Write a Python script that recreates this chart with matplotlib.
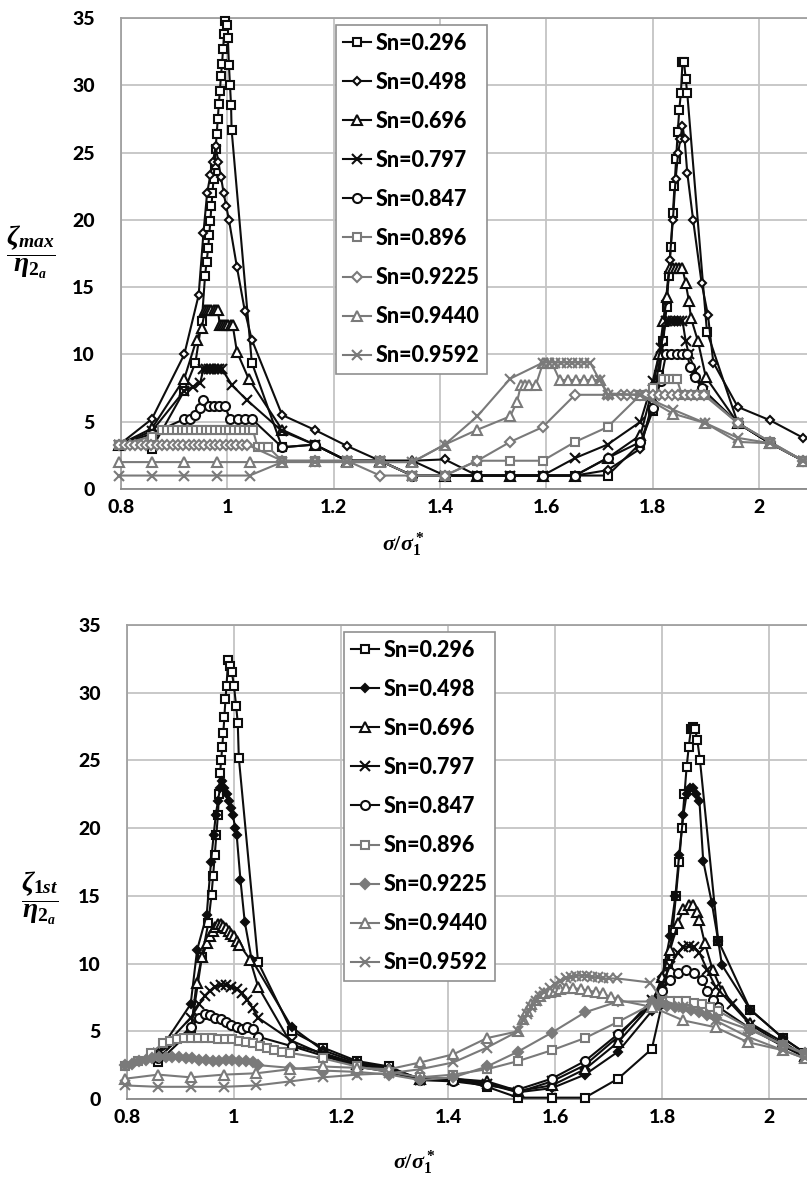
import matplotlib
matplotlib.use("Agg")
import matplotlib.pyplot as plt

# ---------------- data: upper panel (zeta_max / eta) ----------------
labels = ["Sn=0.296", "Sn=0.498", "Sn=0.696", "Sn=0.797", "Sn=0.847",
          "Sn=0.896", "Sn=0.9225", "Sn=0.9440", "Sn=0.9592"]

t_x296 = [0.797, 0.858, 0.919, 0.940, 0.952, 0.958, 0.961, 0.964, 0.966, 0.968, 0.970, 0.972, 0.974,
          0.976, 0.978, 0.980, 0.982, 0.984, 0.986, 0.988, 0.990, 0.992, 0.994, 0.996, 0.999, 1.001,
          1.003, 1.005, 1.007, 1.008, 1.046, 1.103, 1.164, 1.225, 1.287, 1.348, 1.409, 1.470, 1.532,
          1.593, 1.654, 1.715, 1.777, 1.800, 1.812, 1.820, 1.826, 1.830, 1.834, 1.838, 1.841, 1.844,
          1.847, 1.850, 1.853, 1.856, 1.859, 1.862, 1.865, 1.902, 1.960, 2.021, 2.083]
t_y296 = [3.3, 3.0, 7.3, 9.4, 12.5, 15.8, 16.9, 17.9, 18.9, 19.9, 21.0, 22.0, 23.0,
          24.1, 25.3, 26.4, 27.5, 28.6, 29.6, 30.7, 31.6, 32.7, 33.8, 34.8, 34.5, 33.5,
          31.5, 30.0, 28.5, 26.7, 9.4, 3.1, 3.3, 2.1, 2.1, 1.0, 1.0, 1.0, 1.0,
          1.0, 1.0, 1.0, 3.4, 5.8, 8.5, 11.0, 13.5, 15.8, 18.0, 20.5, 22.5, 24.5,
          26.5, 28.2, 29.4, 31.7, 31.7, 30.5, 29.4, 11.7, 4.9, 3.4, 2.1]

t_x498 = [0.797, 0.858, 0.919, 0.946, 0.955, 0.962, 0.968, 0.973, 0.978, 0.983, 0.988, 0.993,
          0.998, 1.003, 1.018, 1.033, 1.046, 1.103, 1.164, 1.225, 1.287, 1.348, 1.409, 1.470,
          1.532, 1.593, 1.654, 1.715, 1.777, 1.800, 1.815, 1.825, 1.832, 1.838, 1.843, 1.848,
          1.852, 1.856, 1.860, 1.865, 1.876, 1.892, 1.904, 1.914, 1.960, 2.021, 2.083]
t_y498 = [3.3, 5.2, 10.0, 14.4, 19.0, 22.0, 23.3, 24.3, 25.5, 24.3, 23.2, 22.0,
          21.0, 20.0, 16.5, 13.2, 11.1, 5.5, 4.4, 3.2, 2.1, 2.1, 2.2, 1.0,
          1.0, 1.0, 1.0, 1.4, 3.0, 6.5, 10.0, 14.0, 17.0, 20.0, 23.0, 25.0,
          26.0, 27.0, 26.0, 23.5, 20.0, 15.3, 12.9, 9.4, 6.1, 5.1, 3.8]

t_x696 = [0.797, 0.858, 0.919, 0.942, 0.952, 0.958, 0.962, 0.966, 0.970, 0.974, 0.978, 0.982,
          0.986, 0.990, 0.994, 0.998, 1.002, 1.006, 1.010, 1.018, 1.040, 1.103, 1.164, 1.225,
          1.287, 1.348, 1.409, 1.470, 1.532, 1.593, 1.654, 1.715, 1.777, 1.800, 1.812, 1.820,
          1.826, 1.832, 1.838, 1.844, 1.850, 1.856, 1.862, 1.868, 1.872, 1.885, 1.900, 1.960,
          2.021, 2.083]
t_y696 = [3.3, 4.5, 8.2, 11.1, 12.0, 13.3, 13.3, 13.3, 13.3, 13.3, 13.3, 13.3,
          12.2, 12.2, 12.2, 12.2, 12.2, 12.2, 12.2, 10.2, 8.2, 4.4, 3.3, 2.1,
          2.1, 2.1, 1.0, 1.0, 1.0, 1.0, 1.0, 2.3, 4.0, 7.5, 10.0, 12.5,
          14.3, 16.4, 16.4, 16.4, 16.4, 16.4, 15.3, 14.0, 12.7, 11.0, 8.3, 4.9,
          3.4, 2.1]

t_x797 = [0.797, 0.858, 0.919, 0.935, 0.949, 0.955, 0.960, 0.965, 0.970, 0.975, 0.980, 0.985,
          0.990, 1.009, 1.037, 1.103, 1.164, 1.225, 1.287, 1.348, 1.409, 1.470, 1.532, 1.593,
          1.654, 1.715, 1.777, 1.800, 1.815, 1.825, 1.832, 1.838, 1.844, 1.850, 1.856, 1.862,
          1.868, 1.880, 1.895, 1.960, 2.021, 2.083]
t_y797 = [3.3, 4.3, 7.3, 7.6, 7.9, 8.9, 8.9, 8.9, 8.9, 8.9, 8.9, 8.9,
          8.9, 7.7, 6.6, 4.3, 3.3, 2.1, 2.1, 1.0, 1.0, 1.0, 1.0, 1.0,
          2.3, 3.3, 5.0, 8.0, 10.5, 12.5, 12.5, 12.5, 12.5, 12.5, 12.5, 11.0,
          10.0, 8.8, 7.3, 4.9, 3.4, 2.1]

t_x847 = [0.797, 0.858, 0.919, 0.930, 0.940, 0.948, 0.955, 0.965, 0.975, 0.985, 0.995, 1.005,
          1.020, 1.033, 1.046, 1.103, 1.164, 1.225, 1.287, 1.348, 1.409, 1.470, 1.532, 1.593,
          1.654, 1.715, 1.777, 1.800, 1.815, 1.825, 1.835, 1.845, 1.855, 1.865, 1.870, 1.880,
          1.892, 1.960, 2.021, 2.083]
t_y847 = [3.3, 4.1, 5.2, 5.2, 5.5, 6.0, 6.6, 6.2, 6.2, 6.2, 6.2, 5.2,
          5.2, 5.2, 5.2, 3.1, 3.3, 2.1, 2.1, 1.0, 1.0, 1.0, 1.0, 1.0,
          1.0, 2.3, 3.5, 6.0, 8.0, 10.0, 10.0, 10.0, 10.0, 10.0, 9.1, 8.3,
          7.5, 4.9, 3.4, 2.1]

t_x896 = [0.797, 0.858, 0.877, 0.887, 0.896, 0.905, 0.914, 0.923, 0.932, 0.941, 0.950, 0.959,
          0.968, 0.977, 0.986, 0.995, 1.004, 1.013, 1.022, 1.031, 1.040, 1.048, 1.057, 1.067,
          1.077, 1.103, 1.164, 1.225, 1.287, 1.348, 1.409, 1.470, 1.532, 1.593, 1.654, 1.715,
          1.777, 1.800, 1.820, 1.830, 1.838, 1.845, 1.855, 1.870, 1.885, 1.899, 1.960, 2.021,
          2.083]
t_y896 = [3.3, 3.9, 4.4, 4.4, 4.4, 4.4, 4.4, 4.4, 4.4, 4.4, 4.4, 4.4,
          4.4, 4.4, 4.4, 4.4, 4.4, 4.4, 4.4, 4.4, 4.4, 4.4, 3.1, 3.1,
          3.1, 2.1, 2.1, 2.1, 2.1, 1.0, 1.0, 2.1, 2.1, 2.1, 3.5, 4.6,
          7.0, 7.5, 8.2, 8.2, 8.2, 8.2, 7.0, 7.0, 7.0, 7.0, 4.9, 3.5,
          2.1]

t_x9225 = [0.797, 0.807, 0.817, 0.827, 0.837, 0.847, 0.857, 0.867, 0.877, 0.887, 0.897, 0.907,
           0.917, 0.927, 0.937, 0.947, 0.957, 0.967, 0.977, 0.987, 0.997, 1.007, 1.017, 1.027,
           1.037, 1.103, 1.164, 1.225, 1.287, 1.348, 1.409, 1.470, 1.532, 1.593, 1.654, 1.715,
           1.740, 1.752, 1.764, 1.776, 1.788, 1.800, 1.812, 1.824, 1.836, 1.848, 1.860, 1.872,
           1.884, 1.896, 1.960, 2.021, 2.083]
t_y9225 = [3.3, 3.3, 3.3, 3.3, 3.3, 3.3, 3.3, 3.3, 3.3, 3.3, 3.3, 3.3,
           3.3, 3.3, 3.3, 3.3, 3.3, 3.3, 3.3, 3.3, 3.3, 3.3, 3.3, 3.3,
           3.3, 2.1, 2.1, 2.1, 1.0, 1.0, 1.0, 2.1, 3.5, 4.6, 7.0, 7.0,
           7.0, 7.0, 7.0, 7.0, 7.0, 7.0, 7.0, 7.0, 7.0, 7.0, 7.0, 7.0,
           7.0, 7.0, 4.9, 3.5, 2.1]

t_x944 = [0.797, 0.858, 0.919, 0.981, 1.042, 1.103, 1.164, 1.225, 1.287, 1.348, 1.409, 1.470,
          1.532, 1.545, 1.552, 1.560, 1.568, 1.580, 1.594, 1.602, 1.610, 1.625, 1.640, 1.655,
          1.670, 1.685, 1.700, 1.716, 1.777, 1.838, 1.899, 1.960, 2.021, 2.083]
t_y944 = [2.0, 2.0, 2.0, 2.0, 2.0, 2.0, 2.1, 2.0, 2.0, 2.0, 3.3, 4.4,
          5.4, 6.5, 7.7, 7.7, 7.7, 7.7, 9.4, 9.4, 9.4, 8.1, 8.1, 8.1,
          8.1, 8.1, 8.1, 7.1, 7.0, 5.6, 4.9, 3.5, 3.4, 2.1]

t_x9592 = [0.797, 0.858, 0.919, 0.981, 1.042, 1.103, 1.164, 1.225, 1.287, 1.348, 1.409, 1.470,
           1.532, 1.594, 1.605, 1.616, 1.627, 1.638, 1.649, 1.660, 1.671, 1.682, 1.700, 1.716,
           1.777, 1.838, 1.899, 1.960, 2.021, 2.083]
t_y9592 = [1.0, 1.0, 1.0, 1.0, 1.0, 2.0, 2.0, 2.0, 2.0, 2.0, 3.3, 5.4,
           8.2, 9.4, 9.4, 9.4, 9.4, 9.4, 9.4, 9.4, 9.4, 9.4, 8.1, 7.0,
           7.0, 5.9, 4.9, 3.8, 3.4, 2.1]

# ---------------- data: lower panel (zeta_1st / eta) ----------------
b_x296 = [0.858, 0.919, 0.940, 0.952, 0.958, 0.961, 0.964, 0.967, 0.970, 0.972, 0.974, 0.976,
          0.978, 0.980, 0.982, 0.984, 0.986, 0.989, 0.992, 0.996, 1.000, 1.004, 1.007, 1.009,
          1.045, 1.108, 1.166, 1.230, 1.290, 1.348, 1.410, 1.473, 1.531, 1.594, 1.656, 1.718,
          1.781, 1.800, 1.812, 1.820, 1.826, 1.832, 1.837, 1.842, 1.846, 1.850, 1.854, 1.858,
          1.862, 1.866, 1.871, 1.905, 1.965, 2.026, 2.067]
b_y296 = [2.7, 5.0, 10.5, 13.0, 15.1, 16.5, 18.0, 19.5, 21.0, 22.5, 24.1, 25.0,
          26.0, 27.0, 28.2, 29.5, 30.5, 32.4, 32.0, 31.5, 30.5, 29.0, 27.8, 25.2,
          10.1, 5.0, 3.8, 2.8, 2.4, 1.4, 1.5, 0.9, 0.1, 0.1, 0.1, 1.5,
          3.7, 7.0, 10.0, 12.5, 15.0, 17.5, 20.0, 22.5, 24.5, 26.0, 27.3, 27.5,
          27.3, 26.5, 25.0, 11.7, 6.6, 4.5, 3.4]

b_x498 = [0.858, 0.919, 0.931, 0.949, 0.957, 0.962, 0.966, 0.970, 0.974, 0.978, 0.982, 0.986,
          0.990, 0.994, 0.998, 1.002, 1.005, 1.012, 1.020, 1.033, 1.108, 1.166, 1.230, 1.290,
          1.348, 1.410, 1.473, 1.531, 1.594, 1.656, 1.718, 1.781, 1.800, 1.815, 1.825, 1.832,
          1.840, 1.846, 1.852, 1.858, 1.864, 1.870, 1.877, 1.893, 1.905, 1.912, 1.965, 2.026,
          2.067]
b_y498 = [3.4, 7.0, 11.0, 13.6, 17.5, 19.5, 21.0, 22.0, 23.0, 23.5, 23.0, 22.5,
          22.0, 21.5, 21.0, 20.0, 19.5, 16.2, 13.1, 10.3, 5.3, 3.6, 2.7, 2.3,
          1.5, 1.5, 1.2, 0.5, 0.8, 1.8, 3.5, 6.5, 9.0, 12.0, 15.0, 18.0,
          21.0, 22.5, 23.0, 23.0, 22.5, 22.0, 17.6, 14.5, 11.7, 9.9, 6.6, 4.5,
          3.4]

b_x696 = [0.858, 0.919, 0.930, 0.940, 0.950, 0.955, 0.960, 0.965, 0.970, 0.975, 0.980, 0.985,
          0.990, 0.995, 1.000, 1.005, 1.010, 1.030, 1.045, 1.108, 1.166, 1.230, 1.290, 1.348,
          1.410, 1.473, 1.531, 1.594, 1.656, 1.718, 1.781, 1.800, 1.815, 1.830, 1.840, 1.850,
          1.858, 1.865, 1.870, 1.880, 1.895, 1.912, 1.965, 2.026, 2.067]
b_y696 = [3.4, 4.9, 8.6, 10.5, 11.5, 12.0, 12.4, 12.7, 12.9, 12.9, 12.8, 12.6,
          12.4, 12.2, 12.0, 11.7, 11.4, 10.3, 8.3, 4.0, 3.4, 2.6, 2.2, 1.5,
          1.5, 1.3, 0.6, 1.0, 2.2, 4.2, 7.0, 9.0, 11.0, 13.0, 14.0, 14.3,
          14.3, 13.8, 13.2, 11.5, 9.5, 8.0, 5.6, 4.2, 3.2]

b_x797 = [0.858, 0.919, 0.935, 0.945, 0.955, 0.965, 0.975, 0.985, 0.995, 1.005, 1.015, 1.025,
          1.035, 1.045, 1.108, 1.166, 1.230, 1.290, 1.348, 1.410, 1.473, 1.531, 1.594, 1.656,
          1.718, 1.781, 1.800, 1.815, 1.830, 1.840, 1.850, 1.860, 1.870, 1.885, 1.900, 1.930,
          1.965, 2.026, 2.067]
b_y797 = [3.4, 6.0, 7.0, 7.6, 8.0, 8.3, 8.4, 8.4, 8.3, 8.1, 7.8, 7.3,
          6.7, 6.0, 4.3, 3.3, 2.5, 2.1, 1.4, 1.4, 1.1, 0.5, 1.3, 2.5,
          4.6, 7.3, 8.5, 9.8, 10.8, 11.2, 11.3, 11.2, 10.8, 9.5, 8.3, 7.0,
          5.5, 4.0, 3.2]

b_x847 = [0.858, 0.919, 0.935, 0.945, 0.955, 0.965, 0.975, 0.985, 0.995, 1.005, 1.015, 1.025,
          1.035, 1.045, 1.108, 1.166, 1.230, 1.290, 1.348, 1.410, 1.473, 1.531, 1.594, 1.656,
          1.718, 1.781, 1.800, 1.815, 1.830, 1.845, 1.860, 1.875, 1.885, 1.895, 1.905, 1.965,
          2.026, 2.067]
b_y847 = [3.0, 5.3, 6.0, 6.3, 6.2, 6.0, 5.9, 5.7, 5.5, 5.3, 5.2, 5.3,
          5.2, 4.6, 3.9, 3.2, 2.4, 2.0, 1.4, 1.3, 1.0, 0.7, 1.5, 2.8,
          4.8, 7.0, 8.0, 8.8, 9.3, 9.5, 9.3, 8.8, 8.0, 7.3, 6.8, 5.2,
          3.9, 3.1]

b_x896 = [0.797, 0.820, 0.845, 0.867, 0.880, 0.893, 0.906, 0.919, 0.932, 0.945, 0.958, 0.971,
          0.984, 0.997, 1.010, 1.023, 1.036, 1.049, 1.061, 1.075, 1.090, 1.105, 1.166, 1.230,
          1.290, 1.348, 1.410, 1.473, 1.531, 1.594, 1.656, 1.718, 1.781, 1.800, 1.815, 1.830,
          1.845, 1.860, 1.875, 1.890, 1.905, 1.965, 2.026, 2.067]
b_y896 = [2.4, 2.8, 3.4, 4.1, 4.3, 4.4, 4.5, 4.5, 4.5, 4.5, 4.5, 4.4,
          4.4, 4.4, 4.3, 4.2, 4.1, 3.9, 3.8, 3.6, 3.5, 3.4, 3.0, 2.4,
          2.0, 1.6, 1.8, 2.2, 2.8, 3.6, 4.5, 5.7, 7.0, 7.2, 7.2, 7.2,
          7.2, 7.1, 7.0, 6.8, 6.5, 5.2, 4.0, 3.3]

b_x9225 = [0.797, 0.810, 0.822, 0.835, 0.847, 0.860, 0.872, 0.885, 0.897, 0.910, 0.922, 0.935,
           0.947, 0.960, 0.972, 0.985, 0.997, 1.010, 1.022, 1.035, 1.045, 1.105, 1.166, 1.230,
           1.290, 1.348, 1.410, 1.473, 1.531, 1.594, 1.656, 1.718, 1.781, 1.795, 1.810, 1.825,
           1.840, 1.855, 1.870, 1.885, 1.900, 1.965, 2.026, 2.067]
b_y9225 = [2.5, 2.6, 2.8, 2.9, 3.0, 3.1, 3.1, 3.1, 3.1, 3.0, 3.0, 2.9,
           2.9, 2.8, 2.8, 2.9, 2.9, 2.8, 2.8, 2.7, 2.5, 2.3, 2.1, 2.0,
           1.8, 1.4, 1.6, 2.4, 3.5, 4.9, 6.4, 7.2, 7.2, 7.0, 6.9, 6.8,
           6.7, 6.6, 6.4, 6.2, 6.0, 5.1, 4.0, 3.4]

b_x944 = [0.797, 0.858, 0.919, 0.981, 1.042, 1.105, 1.166, 1.230, 1.290, 1.348, 1.410, 1.473,
          1.531, 1.540, 1.548, 1.556, 1.564, 1.572, 1.580, 1.590, 1.600, 1.610, 1.620, 1.634,
          1.648, 1.662, 1.676, 1.690, 1.704, 1.718, 1.781, 1.840, 1.900, 1.960, 2.026, 2.067]
b_y944 = [1.5, 1.8, 1.6, 1.8, 1.9, 2.2, 2.4, 2.3, 2.2, 2.7, 3.3, 4.5,
          5.0, 5.9, 6.5, 7.0, 7.3, 7.6, 7.8, 7.9, 8.0, 8.1, 8.2, 8.2,
          8.1, 8.0, 7.9, 7.8, 7.5, 7.3, 6.8, 5.8, 5.3, 4.2, 3.6, 3.0]

b_x9592 = [0.797, 0.858, 0.919, 0.981, 1.042, 1.105, 1.166, 1.230, 1.290, 1.348, 1.410, 1.473,
           1.531, 1.540, 1.548, 1.556, 1.564, 1.572, 1.580, 1.590, 1.600, 1.610, 1.620, 1.630,
           1.640, 1.650, 1.660, 1.670, 1.680, 1.690, 1.700, 1.716, 1.778, 1.800, 1.840, 1.900,
           1.960, 2.026, 2.067]
b_y9592 = [1.0, 0.9, 0.9, 0.9, 1.0, 1.3, 1.6, 1.8, 1.9, 2.2, 2.7, 3.8,
           5.0, 5.8, 6.3, 6.8, 7.2, 7.6, 7.9, 8.2, 8.5, 8.7, 8.9, 9.0,
           9.1, 9.1, 9.1, 9.0, 9.0, 8.9, 8.9, 8.9, 8.6, 7.3, 6.8, 5.8,
           4.6, 3.6, 3.0]

top_series = [(t_x296, t_y296), (t_x498, t_y498), (t_x696, t_y696), (t_x797, t_y797),
              (t_x847, t_y847), (t_x896, t_y896), (t_x9225, t_y9225), (t_x944, t_y944),
              (t_x9592, t_y9592)]
bot_series = [(b_x296, b_y296), (b_x498, b_y498), (b_x696, b_y696), (b_x797, b_y797),
              (b_x847, b_y847), (b_x896, b_y896), (b_x9225, b_y9225), (b_x944, b_y944),
              (b_x9592, b_y9592)]

xticks = [0.8, 1.0, 1.2, 1.4, 1.6, 1.8, 2.0]
xticklabels = ["0.8", "1", "1.2", "1.4", "1.6", "1.8", "2"]
yticks = [0, 5, 10, 15, 20, 25, 30, 35]

# ---------------- style ----------------
plt.rcParams['mathtext.fontset'] = 'custom'
plt.rcParams['mathtext.it'] = 'Liberation Serif:italic:bold'
plt.rcParams['mathtext.rm'] = 'Liberation Serif:bold'
plt.rcParams['mathtext.bf'] = 'Liberation Serif:bold'

BLACK = '#0d0d0d'
GRAY = '#7a7a7a'
colors = [BLACK] * 5 + [GRAY] * 4
markers = ['s', 'D', '^', 'x', 'o', 's', 'D', '^', 'x']
msizes = [6.0, 4.5, 6.5, 6.5, 6.5, 6.0, 5.0, 6.5, 6.5]


def draw_panel(ax, series, filled_diamonds, xmax, legend_x):
    for i, (xs, ys) in enumerate(series):
        face = 'white'
        if filled_diamonds and markers[i] == 'D':
            face = colors[i]
        ax.plot(xs, ys, color=colors[i], lw=1.5, marker=markers[i], ms=msizes[i],
                mfc=face, mec=colors[i], mew=1.5, label=labels[i], clip_on=False, zorder=3 + i)
    ax.set_xlim(0.8, xmax)
    ax.set_ylim(0, 35)
    ax.set_xticks(xticks)
    ax.set_xticklabels(xticklabels)
    ax.set_yticks(yticks)
    ax.grid(True, color='#c4c4c4', lw=1.3)
    ax.set_axisbelow(True)
    ax.tick_params(length=0, labelsize=14, pad=19, axis='y')
    ax.tick_params(length=0, labelsize=14, pad=7, axis='x')
    for lab in ax.get_xticklabels() + ax.get_yticklabels():
        lab.set_fontfamily('Lato')
        lab.set_fontweight('black')
    ax.spines['right'].set_visible(False)
    ax.spines['top'].set_color('#a0a0a0')
    ax.spines['left'].set_color('#a0a0a0')
    ax.spines['bottom'].set_color('#888888')
    for s in ax.spines.values():
        s.set_linewidth(1.3)
    leg = ax.legend(loc='upper left', bbox_to_anchor=(legend_x, 0.985), borderaxespad=0,
                    fancybox=False, edgecolor='#909090', framealpha=1, handlelength=1.3,
                    handletextpad=0.2, labelspacing=0.84, borderpad=0.35,
                    prop={'family': 'Lato', 'weight': 'black', 'size': 15.5})
    leg.get_frame().set_linewidth(1.2)
    leg.set_zorder(20)


W, H = 807, 1185
fig = plt.figure(figsize=(W / 100, H / 100), dpi=100)

ax1 = fig.add_axes([121 / W, 1 - 489 / H, (W - 121) / W, 471 / H])
draw_panel(ax1, top_series, False, 0.8 + 686 / 531.7, 0.313)

ax2 = fig.add_axes([127 / W, 1 - 1099 / H, (W - 127) / W, 474 / H])
draw_panel(ax2, bot_series, True, 0.8 + 680 / 535.0, 0.319)

fig.text(31 / W, 1 - 252 / H, r'$\dfrac{\zeta_{max}}{\eta_{2_a}}$', fontsize=20,
         ha='center', va='center')
fig.text(40 / W, 1 - 898 / H, r'$\dfrac{\zeta_{1st}}{\eta_{2_a}}$', fontsize=20,
         ha='center', va='center')
fig.text(403 / W, 1 - 545 / H, r'$\sigma/\sigma_1^*$', fontsize=16, ha='center', va='center')
fig.text(414 / W, 1 - 1163 / H, r'$\sigma/\sigma_1^*$', fontsize=16, ha='center', va='center')

fig.savefig('out.png', dpi=100)
